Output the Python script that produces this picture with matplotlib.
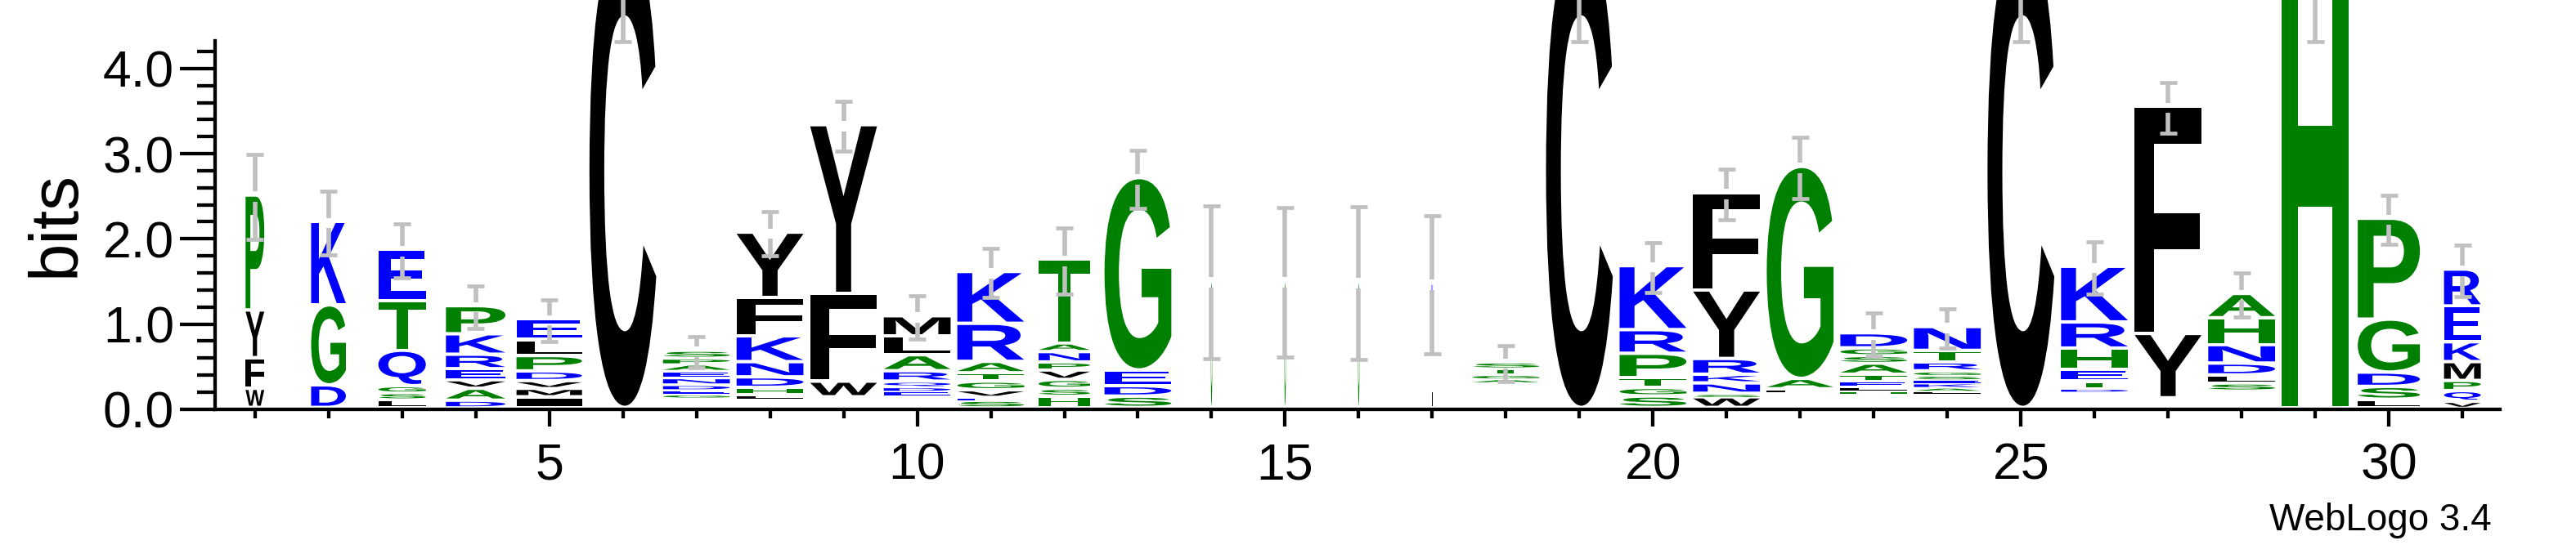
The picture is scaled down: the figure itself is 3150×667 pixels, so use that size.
import matplotlib
matplotlib.use('Agg')
import matplotlib.pyplot as plt
from matplotlib.textpath import TextPath
from matplotlib.patches import PathPatch
from matplotlib.font_manager import FontProperties
from matplotlib.transforms import Affine2D

# sequence logo data, one stack per position, letters listed bottom -> top
# '-' = residues too small to show (no glyph drawn)
positions = list(range(1, 32))
stack_letters = [
    "WFYP", "DGK", "LSGQTE", "DAVERKP", "IMVDPLE", "C",
    "-GEDNEAPS", "-LHDNKFY", "-WFY", "-EDQRALM", "SEVGTARK",
    "HSGVPNAT", "SDEG", "G", "G", "G", "LK", "-AGTS", "C",
    "SGTPRK", "WSNKRYF", "-LAG", "-HLETASGD", "-LAKESGRTN", "C",
    "-DTEHRK", "-YF", "-SLDNHA", "H", "LSDGP", "VQPMKER",
]
stack_heights = [
    [0.225, 0.36, 0.56, 1.35],
    [0.265, 0.94, 0.98],
    [0.095, 0.08, 0.08, 0.417, 0.584, 0.60],
    [0.085, 0.14, 0.10, 0.13, 0.17, 0.24, 0.33],
    [0.125, 0.10, 0.09, 0.114, 0.18, 0.188, 0.245],
    [5.5],
    [0.12, 0.04, 0.05, 0.06, 0.08, 0.08, 0.08, 0.07, 0.092],
    [0.105, 0.05, 0.081, 0.123, 0.179, 0.303, 0.45, 0.768],
    [0.125, 0.184, 1.03, 1.982],
    [0.145, 0.05, 0.05, 0.064, 0.122, 0.188, 0.221, 0.237],
    [0.085, 0.04, 0.082, 0.102, 0.098, 0.134, 0.447, 0.609],
    [0.135, 0.09, 0.104, 0.111, 0.094, 0.122, 0.102, 0.981],
    [0.133, 0.123, 0.184, 2.26],
    [1.49],
    [1.49],
    [1.48],
    [1.0, 0.46],
    [0.30, 0.04, 0.05, 0.07, 0.075],
    [5.5],
    [0.135, 0.10, 0.115, 0.286, 0.278, 0.751],
    [0.125, 0.041, 0.122, 0.102, 0.185, 0.805, 1.144],
    [0.186, 0.033, 0.122, 2.49],
    [0.17, 0.03, 0.05, 0.06, 0.08, 0.13, 0.09, 0.09, 0.177],
    [0.17, 0.03, 0.04, 0.05, 0.04, 0.05, 0.05, 0.105, 0.135, 0.28],
    [5.5],
    [0.19, 0.037, 0.082, 0.139, 0.249, 0.307, 0.654],
    [0.113, 0.756, 2.668],
    [0.194, 0.094, 0.094, 0.139, 0.217, 0.315, 0.286],
    [5.5],
    [0.096, 0.151, 0.168, 0.622, 1.185],
    [0.072, 0.126, 0.119, 0.221, 0.233, 0.421, 0.433],
]
# fraction of non-gap sequences -> stack width
stack_widths = [0.28, 0.52, 0.71, 0.89, 0.98, 1, 1, 1, 1, 1, 1, 0.77, 1,
                0.02, 0.02, 0.02, 0.02, 1, 1, 1, 1, 1, 1, 1, 1, 1, 1, 1, 1,
                0.93, 0.55]
error_half = [0.497, 0.378, 0.315, 0.251, 0.245, 1.18, 0.184, 0.26, 0.292,
              0.255, 0.286, 0.388, 0.343, 0.90, 0.88, 0.90, 0.807, 0.213,
              1.18, 0.292, 0.296, 0.358, 0.255, 0.229, 1.18, 0.306, 0.298,
              0.26, 1.18, 0.286, 0.30]

# hydrophobicity colour scheme
colors = {}
for c in "RKDENQ":
    colors[c] = "#0000ff"
for c in "SGHTAP":
    colors[c] = "#008000"
for c in "YVMCLFIW":
    colors[c] = "#000000"

plt.rcParams['font.family'] = 'Liberation Sans'
LETTER_FONT = FontProperties(family='Liberation Sans', weight='bold')
FULL_W = 0.908


def draw_letter(ax, ch, x, w, y0, h, color):
    tp = TextPath((0, 0), ch, size=1, prop=LETTER_FONT)
    bb = tp.get_extents()
    tr = (Affine2D().translate(-bb.x0, -bb.y0)
          .scale(w / bb.width, h / bb.height)
          .translate(x - w / 2, y0))
    ax.add_patch(PathPatch(tr.transform_path(tp), fc=color, ec='none', lw=0))


fig = plt.figure(figsize=(31.5, 6.67), dpi=100)
ax = fig.add_axes([262.7 / 3150, 166.3 / 667, (3057 - 262.7) / 3150, 500.7 / 667])

tops = []
for pos, letters, heights, wf in zip(positions, stack_letters, stack_heights, stack_widths):
    y = 0.0
    w = FULL_W * wf
    for ch, h in zip(letters, heights):
        gap = min(0.04, 0.4 * h)
        if ch != '-':
            draw_letter(ax, ch, pos, w, y + gap, h - gap, colors[ch])
        y += h
    tops.append(y)

# error bars (split around stack top, as in WebLogo)
eb_color = '#c0c0c0'
for pos, top, e in zip(positions, tops, error_half):
    g = 0.06
    ax.vlines([pos, pos], [top + g, top - e], [top + e, top - g],
              color=eb_color, lw=4.0, capstyle='butt', zorder=5)
    ax.hlines([top + e, top - e], pos - 0.117, pos + 0.117,
              color=eb_color, lw=3.4, capstyle='butt', zorder=5)

ax.set_xlim(0.455, 31.51)
ax.set_ylim(0, 500.7 / 104.2)

for s in ['top', 'right']:
    ax.spines[s].set_visible(False)
ax.spines['left'].set_bounds(0, 4.325)
ax.spines['left'].set_linewidth(3.1)
ax.spines['bottom'].set_linewidth(3.1)

ax.set_xticks([5, 10, 15, 20, 25, 30])
ax.set_xticks(positions, minor=True)
ax.set_yticks([0, 1, 2, 3, 4])
ax.set_yticklabels(['0.0', '1.0', '2.0', '3.0', '4.0'])
ax.set_yticks([i * 0.2 for i in range(22)], minor=True)
ax.tick_params(axis='x', which='major', length=15, width=3.1, pad=13.5, labelsize=45)
ax.tick_params(axis='x', which='minor', length=7.7, width=3.1)
ax.tick_params(axis='y', which='major', length=30.7, width=3.1, pad=5, labelsize=45)
ax.tick_params(axis='y', which='minor', length=15.8, width=3.1)

fig.text(69 / 3150, 1 - 274 / 667, 'bits', rotation=90, fontsize=60,
         ha='center', va='center')
fig.text(3047 / 3150, 1 - 649 / 667, 'WebLogo 3.4', fontsize=33,
         ha='right', va='baseline')

fig.savefig('out.png', dpi=100)
